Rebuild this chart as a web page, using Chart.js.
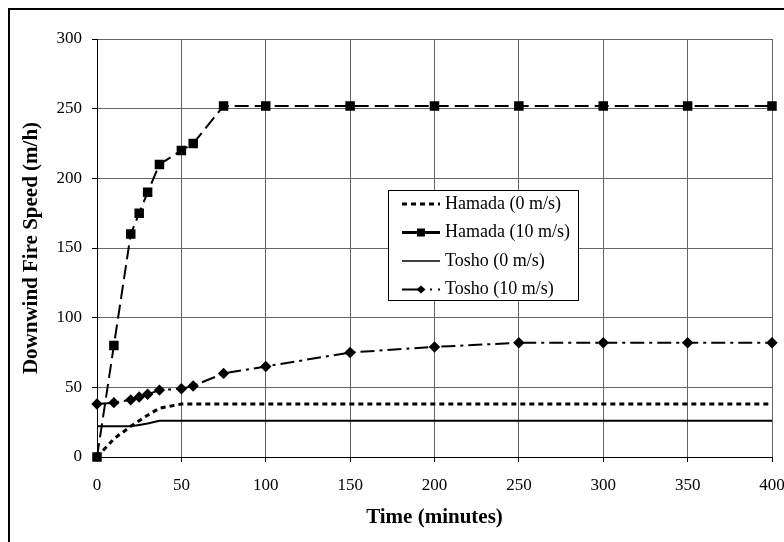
<!DOCTYPE html>
<html>
<head>
<meta charset="utf-8">
<script src="https://cdn.jsdelivr.net/npm/chart.js@4.4.0/dist/chart.umd.min.js"></script>
<style>
  html, body { margin: 0; padding: 0; background: #fff; overflow: hidden; }
  #wrap { position: relative; width: 784px; height: 542px; overflow: hidden; }
  #chart { position: absolute; left: 0; top: 0; }
  #frame { position: absolute; left: 8px; top: 8px; right: -10px; bottom: -10px;
           border-left: 2px solid #000; border-top: 2px solid #000; pointer-events: none; }
</style>
</head>
<body>
<div id="wrap">
  <canvas id="chart" width="800" height="542"></canvas>
  <div id="frame"></div>
</div>
<script>
// --- data ---
const timeMinutes = [0, 10, 20, 25, 30, 37, 50, 57, 75, 100, 150, 200, 250, 300, 350, 400];
const hamada0  = [0, 13, 22, 26, 30, 35, 38, 38, 38, 38, 38, 38, 38, 38, 38, 38];
const hamada10 = [0, 80, 160, 175, 190, 210, 220, 225, 252, 252, 252, 252, 252, 252, 252, 252];
const tosho0   = [22, 22, 22, 23, 24, 26, 26, 26, 26, 26, 26, 26, 26, 26, 26, 26];
const tosho10  = [38, 39, 41, 43, 45, 48, 49, 51, 60, 65, 75, 79, 82, 82, 82, 82];
const seriesNames = ['Hamada (0 m/s)', 'Hamada (10 m/s)', 'Tosho (0 m/s)', 'Tosho (10 m/s)'];
const xTickValues = [0, 50, 100, 150, 200, 250, 300, 350, 400];
const yTickValues = [0, 50, 100, 150, 200, 250, 300];
const xTitle = 'Time (minutes)';
const yTitle = 'Downwind Fire Speed (m/h)';

Chart.defaults.font.family = '"Liberation Serif", "Times New Roman", serif';
Chart.defaults.color = '#000';

function toPoints(ys) {
    return timeMinutes.map((t, i) => ({ x: t, y: ys[i] }));
}

// legend sample styles (the picture shows short samples)
const legendLines = [
    { dash: [5, 4], width: 3, marker: null },
    { dash: [], width: 3, marker: 'square' },
    { dash: [], width: 1.5, marker: null },
    { dash: [22, 6, 2, 6], width: 2, marker: 'diamond' }
];

function drawMarker(ctx, kind, x, y) {
    ctx.beginPath();
    if (kind === 'square') {
        ctx.rect(x - 4, y - 4, 8, 8);
    } else if (kind === 'diamond') {
        ctx.moveTo(x - 4.5, y); ctx.lineTo(x, y - 4); ctx.lineTo(x + 4.5, y); ctx.lineTo(x, y + 4);
        ctx.closePath();
    }
    ctx.fillStyle = '#000';
    ctx.fill();
}

const legendBox = {
    id: 'legendBox',
    afterDraw(chart) {
        const ctx = chart.ctx;
        const a = chart.chartArea;
        const x = a.left + 291, y = a.top + 151, w = 190, h = 110;
        ctx.save();
        ctx.fillStyle = '#fff';
        ctx.fillRect(x, y, w, h);
        ctx.strokeStyle = '#000';
        ctx.lineWidth = 1;
        ctx.strokeRect(x + 0.5, y + 0.5, w, h);
        seriesNames.forEach((name, i) => {
            const cy = y + 14 + i * 28.5;
            const x1 = x + 14, x2 = x + 52;
            const st = legendLines[i];
            ctx.beginPath();
            ctx.setLineDash(st.dash);
            ctx.lineWidth = st.width;
            ctx.strokeStyle = '#000';
            ctx.moveTo(x1, cy);
            ctx.lineTo(x2, cy);
            ctx.stroke();
            ctx.setLineDash([]);
            if (st.marker) drawMarker(ctx, st.marker, (x1 + x2) / 2, cy);
            ctx.fillStyle = '#000';
            ctx.font = '18px "Liberation Serif", serif';
            ctx.textBaseline = 'middle';
            ctx.textAlign = 'left';
            ctx.fillText(name, x + 57, cy);
        });
        ctx.restore();
    }
};

new Chart(document.getElementById('chart'), {
    type: 'line',
    data: {
        datasets: [
            { label: seriesNames[0], data: toPoints(hamada0), borderColor: '#000', borderWidth: 3,
              borderDash: [5, 4], pointRadius: 0, clip: false },
            { label: seriesNames[1], data: toPoints(hamada10), borderColor: '#000', borderWidth: 2,
              borderDash: [14, 6], pointStyle: 'rect', pointRadius: 5.3,
              pointBackgroundColor: '#000', pointBorderColor: '#000', clip: false },
            { label: seriesNames[2], data: toPoints(tosho0), borderColor: '#000', borderWidth: 2,
              pointRadius: 0, clip: false },
            { label: seriesNames[3], data: toPoints(tosho10), borderColor: '#000', borderWidth: 2,
              borderDash: [14, 5, 3, 5], pointStyle: 'rectRot', pointRadius: 4.3,
              pointBackgroundColor: '#000', pointBorderColor: '#000', clip: false }
        ]
    },
    options: {
        responsive: false,
        animation: false,
        layout: { padding: { left: 10, top: 39, right: 28, bottom: 12 } },
        plugins: { legend: { display: false }, tooltip: { enabled: false } },
        elements: { line: { tension: 0 } },
        scales: {
            x: {
                type: 'linear', min: 0, max: 400,
                afterBuildTicks: s => { s.ticks = xTickValues.map(v => ({ value: v })); },
                afterFit: s => { s.height = 73; },
                ticks: { font: { size: 17 }, color: '#000', padding: 13, maxRotation: 0 },
                grid: { color: '#666', tickColor: '#000', tickLength: 5, lineWidth: 1 },
                border: { color: '#000', width: 1 },
                title: { display: true, text: xTitle, font: { size: 21, weight: 'bold' },
                         color: '#000', padding: { top: 0, bottom: 0 } }
            },
            y: {
                min: 0, max: 300,
                afterBuildTicks: s => { s.ticks = yTickValues.map(v => ({ value: v })); },
                afterFit: s => { s.width = 87; },
                ticks: { font: { size: 17 }, color: '#000', padding: 10 },
                grid: { color: '#666', tickColor: '#000', tickLength: 5, lineWidth: 1 },
                border: { color: '#000', width: 1 },
                title: { display: true, text: yTitle, font: { size: 21, weight: 'bold' },
                         color: '#000', padding: { top: 9, bottom: 0 } }
            }
        }
    },
    plugins: [legendBox]
});
</script>
</body>
</html>
